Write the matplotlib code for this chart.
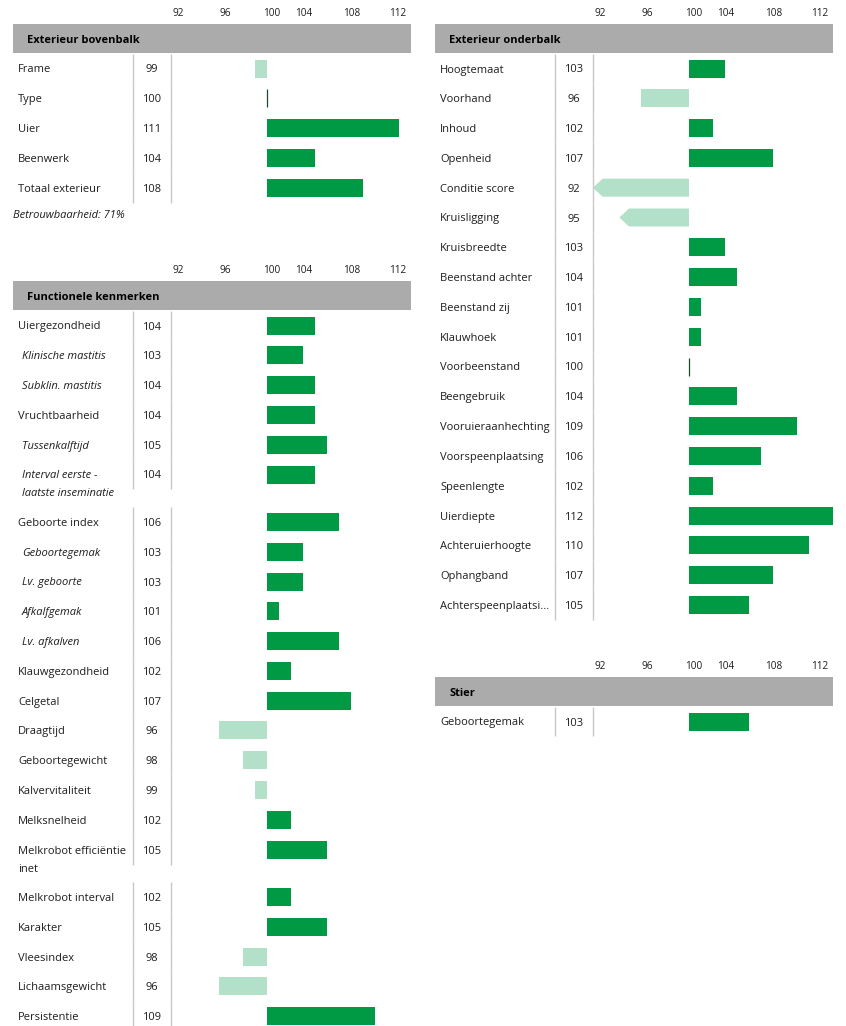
import matplotlib
matplotlib.use('Agg')
import matplotlib.pyplot as plt
from matplotlib.patches import Polygon

plt.rcParams['font.family'] = ['Open Sans', 'DejaVu Sans']

# --- data ---
tick_labels = ['92', '96', '100', '104', '108', '112']

bovenbalk_labels = ['Frame', 'Type', 'Uier', 'Beenwerk', 'Totaal exterieur']
bovenbalk_scores = [99, 100, 111, 104, 108]

functioneel_labels = ['Uiergezondheid', 'Klinische mastitis', 'Subklin. mastitis', 'Vruchtbaarheid',
                      'Tussenkalftijd', 'Interval eerste -\nlaatste inseminatie', 'Geboorte index',
                      'Geboortegemak', 'Lv. geboorte', 'Afkalfgemak', 'Lv. afkalven', 'Klauwgezondheid',
                      'Celgetal', 'Draagtijd', 'Geboortegewicht', 'Kalvervitaliteit', 'Melksnelheid',
                      'Melkrobot efficiëntie\ninet', 'Melkrobot interval', 'Karakter', 'Vleesindex',
                      'Lichaamsgewicht', 'Persistentie']
functioneel_scores = [104, 103, 104, 104, 105, 104, 106, 103, 103, 101, 106, 102, 107, 96, 98, 99, 102,
                      105, 102, 105, 98, 96, 109]
# sub-traits are printed in italics
functioneel_sub = ['Klinische mastitis', 'Subklin. mastitis', 'Tussenkalftijd',
                   'Interval eerste -\nlaatste inseminatie', 'Geboortegemak', 'Lv. geboorte',
                   'Afkalfgemak', 'Lv. afkalven']

onderbalk_labels = ['Hoogtemaat', 'Voorhand', 'Inhoud', 'Openheid', 'Conditie score', 'Kruisligging',
                    'Kruisbreedte', 'Beenstand achter', 'Beenstand zij', 'Klauwhoek', 'Voorbeenstand',
                    'Beengebruik', 'Vooruieraanhechting', 'Voorspeenplaatsing', 'Speenlengte', 'Uierdiepte',
                    'Achteruierhoogte', 'Ophangband', 'Achterspeenplaatsi...']
onderbalk_scores = [103, 96, 102, 107, 92, 95, 103, 104, 101, 101, 100, 104, 109, 106, 102, 112, 110, 107, 105]

stier_labels = ['Geboortegemak']
stier_scores = [103]
stier_bars = [105]  # the bar in the reference is drawn longer than the printed score

betrouwbaarheid = 'Betrouwbaarheid: 71%'

# --- styling ---
DARK = '#009A44'
LIGHT = '#B3E0C9'
GREY = '#ABABAB'
LINE = '#C8C8C8'
TXT = '#1E1E1E'
PX = 12.0                      # pixels per score point
XMIN, XMAX = 100 - 254 / PX, 112.0
ROW = 29.8
EXTRA = 17.6
FS = 8.0


def xpix(offset):
    # horizontal offset in pixels from the panel's left edge -> score units
    return XMIN + offset / PX


tick_pos = [xpix(p) for p in (165, 212, 258.5, 291, 339, 385)]


def draw_section(ax, title, labels, scores, band_top, sub=(), bars=None):
    bars = scores if bars is None else bars
    for p, t in zip(tick_pos, tick_labels):
        ax.text(p, band_top - 12, t, ha='center', va='center_baseline', fontsize=7.2, color=TXT)
    ax.axhspan(band_top, band_top + 29, color=GREY, lw=0)
    ax.text(xpix(14), band_top + 15, title, ha='left', va='center_baseline', fontsize=FS,
            fontweight='bold', color='black')

    y = band_top + 29 + 15.5
    for lab, sc, bv in zip(labels, scores, bars):
        lines = lab.split('\n')
        italic = lab in sub
        for i, ln in enumerate(lines):
            ax.text(xpix(9 if italic else 5), y + i * 18, ln, ha='left', va='center_baseline', fontsize=FS,
                    style='italic' if italic else 'normal', color=TXT)
        ax.text(xpix(139), y, str(sc), ha='center', va='center_baseline', fontsize=FS, color=TXT)
        ax.vlines([xpix(120), xpix(158)], y - ROW / 2, y + ROW / 2, color=LINE, lw=1)

        if bv == 100:
            ax.vlines(100, y - 9, y + 9, color='#1d4a2e', lw=0.9)
        elif bv < 96:
            tip = max(bv - 0.8, 92)
            base = tip + 0.8
            ax.add_patch(Polygon([(tip, y), (base, y - 9), (100, y - 9), (100, y + 9), (base, y + 9)],
                                 closed=True, facecolor=LIGHT, edgecolor='none'))
        else:
            ax.barh(y, bv - 100, left=100, height=18, color=DARK if bv > 100 else LIGHT, lw=0)

        y += ROW + (EXTRA if len(lines) > 1 else 0)
    return y


fig = plt.figure(figsize=(8.46, 10.26), dpi=100)
ax_l = fig.add_axes([13 / 846, 0, 398 / 846, 1])
ax_r = fig.add_axes([435 / 846, 0, 398 / 846, 1])
for ax in (ax_l, ax_r):
    ax.set_xlim(XMIN, XMAX)
    ax.set_ylim(1026, 0)
    ax.axis('off')

draw_section(ax_l, 'Exterieur bovenbalk', bovenbalk_labels, bovenbalk_scores, 24)
ax_l.text(xpix(0), 214, betrouwbaarheid, ha='left', va='center_baseline', fontsize=8.0, style='italic', color=TXT)
draw_section(ax_l, 'Functionele kenmerken', functioneel_labels, functioneel_scores, 281, sub=functioneel_sub)

draw_section(ax_r, 'Exterieur onderbalk', onderbalk_labels, onderbalk_scores, 24)
draw_section(ax_r, 'Stier', stier_labels, stier_scores, 677, bars=stier_bars)

fig.savefig('out.png', dpi=100)
